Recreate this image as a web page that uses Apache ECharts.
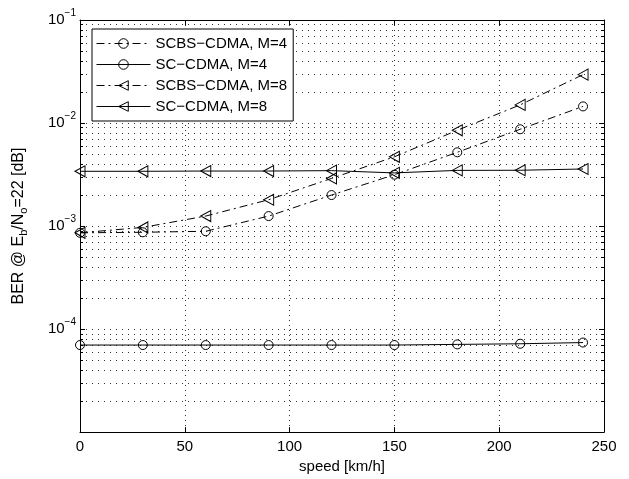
<!DOCTYPE html>
<html>
<head>
<meta charset="utf-8">
<script src="https://cdn.jsdelivr.net/npm/echarts@6/dist/echarts.min.js"></script>
<style>
  html, body { margin: 0; padding: 0; background: #fff; }
  #chart { width: 629px; height: 479px; }
</style>
</head>
<body>
<div id="chart"></div>
<script>
/* ===== 数据 ===== */
const speeds = [0, 30, 60, 90, 120, 150, 180, 210, 240];
const scbsM4 = [8.6e-4, 8.7e-4, 8.9e-4, 1.25e-3, 2.0e-3, 3.15e-3, 5.2e-3, 8.7e-3, 1.45e-2];
const scM4 = [7.0e-5, 7.0e-5, 7.0e-5, 7.0e-5, 7.0e-5, 7.0e-5, 7.1e-5, 7.2e-5, 7.4e-5];
const scbsM8 = [8.6e-4, 9.7e-4, 1.25e-3, 1.8e-3, 2.9e-3, 4.7e-3, 8.5e-3, 1.5e-2, 2.95e-2];
const scM8 = [3.4e-3, 3.4e-3, 3.42e-3, 3.42e-3, 3.45e-3, 3.28e-3, 3.47e-3, 3.48e-3, 3.58e-3];
const seriesNames = ["SCBS\u2212CDMA, M=4", "SC\u2212CDMA, M=4", "SCBS\u2212CDMA, M=8", "SC\u2212CDMA, M=8"];
const minorTicks = [];
[-5, -4, -3, -2].forEach(e => {
    for (let m = 2; m <= 9; m++) minorTicks.push(+(m * Math.pow(10, e)).toPrecision(3));
});

const FONT = "Liberation Sans";
const TRI_LEFT = "path://M0,5L10,0L10,10Z";
const dashDot = [8, 4, 2, 4];
const gridDotsH = { color: "#333", width: 1, type: [1, 5] };
const gridDotsV = { color: "#333", width: 1, type: [1, 4] };

function pairs(vals) {
    return speeds.map((s, i) => [s, vals[i]]);
}

function makeSeries(name, vals, symbol, size, lineType) {
    return {
        name: name,
        type: "line",
        data: pairs(vals),
        symbol: symbol,
        symbolSize: size,
        showSymbol: true,
        lineStyle: { color: "#000", width: 1, type: lineType },
        itemStyle: { color: "rgba(0,0,0,0)", borderColor: "#000", borderWidth: 1 },
        emphasis: { disabled: true },
        animation: false,
        z: 3,
    };
}

const series = [
    makeSeries(seriesNames[0], scbsM4, "circle", 9, dashDot),
    makeSeries(seriesNames[1], scM4, "circle", 9, "solid"),
    makeSeries(seriesNames[2], scbsM8, TRI_LEFT, [10, 11], dashDot),
    makeSeries(seriesNames[3], scM8, TRI_LEFT, [10, 11], "solid"),
];

function expLabel(v) {
    const e = Math.round(Math.log10(v));
    if (e === -5) return "";
    return "{b|10}{e|" + (e < 0 ? "\u2212" : "") + Math.abs(e) + "}";
}

const logAxisBase = {
    type: "log",
    logBase: 10,
    min: 1e-5,
    max: 1e-1,
};

// 次刻度 + 次网格线 (customValues)
function minorAxis(position, withGrid) {
    return Object.assign({}, logAxisBase, {
        position: position,
        axisLine: { show: false },
        axisTick: { show: true, inside: true, length: 3, customValues: minorTicks, lineStyle: { color: "#000" } },
        axisLabel: { show: false },
        splitLine: { show: withGrid, lineStyle: gridDotsH },
    });
}

const option = {
    animation: false,
    backgroundColor: "#fff",
    textStyle: { fontFamily: FONT },
    grid: { left: 80, right: 25, top: 20, bottom: 41, containLabel: false },
    legend: {
        orient: "vertical",
        left: 92,
        top: 29,
        data: seriesNames,
        selectedMode: false,
        backgroundColor: "#fff",
        borderColor: "#000",
        borderWidth: 1,
        borderRadius: 0,
        padding: [7, 6, 7, 4],
        itemWidth: 54,
        itemHeight: 12,
        itemGap: 6,
        lineStyle: { width: 1 },
        itemStyle: { borderWidth: 1 },
        textStyle: { fontFamily: FONT, fontSize: 15, color: "#000" },
        z: 10,
    },
    xAxis: [
        {
            type: "value",
            min: 0,
            max: 250,
            interval: 50,
            position: "bottom",
            name: "speed [km/h]",
            nameLocation: "middle",
            nameGap: 26,
            nameTextStyle: { fontFamily: FONT, fontSize: 15, color: "#000" },
            axisLine: { lineStyle: { color: "#000", width: 1 } },
            axisTick: { inside: true, length: 5, lineStyle: { color: "#000" } },
            axisLabel: { fontFamily: FONT, fontSize: 15, color: "#000", margin: 7 },
            splitLine: { show: true, lineStyle: gridDotsV },
        },
        {
            type: "value",
            min: 0,
            max: 250,
            interval: 50,
            position: "top",
            axisLine: { lineStyle: { color: "#000", width: 1 } },
            axisTick: { inside: true, length: 5, lineStyle: { color: "#000" } },
            axisLabel: { show: false },
            splitLine: { show: false },
        },
    ],
    yAxis: [
        Object.assign({}, logAxisBase, {
            position: "left",
            name: "{n|BER @ E}{s|b}{n|/N}{s|o}{n|=22 [dB]}",
            nameLocation: "middle",
            nameGap: 51,
            nameTextStyle: {
                color: "#000",
                rich: {
                    n: { fontFamily: FONT, fontSize: 16, color: "#000" },
                    s: { fontFamily: FONT, fontSize: 11, color: "#000", padding: [9, 0, 0, 0] },
                },
            },
            axisLine: { show: true, lineStyle: { color: "#000", width: 1 } },
            axisTick: { inside: true, length: 5, lineStyle: { color: "#000" } },
            axisLabel: {
                margin: 4,
                formatter: expLabel,
                rich: {
                    b: { fontFamily: FONT, fontSize: 15, color: "#000" },
                    e: { fontFamily: FONT, fontSize: 10, color: "#000", padding: [0, 0, 14, 0] },
                },
            },
            splitLine: { show: true, lineStyle: gridDotsH },
        }),
        minorAxis("left", true),
        Object.assign({}, logAxisBase, {
            position: "right",
            axisLine: { show: true, lineStyle: { color: "#000", width: 1 } },
            axisTick: { inside: true, length: 5, lineStyle: { color: "#000" } },
            axisLabel: { show: false },
            splitLine: { show: false },
        }),
        minorAxis("right", false),
    ],
    series: series,
};

/* ===== 启动 ===== */
const chart = echarts.init(document.getElementById("chart"), null, { renderer: "canvas" });
chart.setOption(option);
</script>
</body>
</html>
